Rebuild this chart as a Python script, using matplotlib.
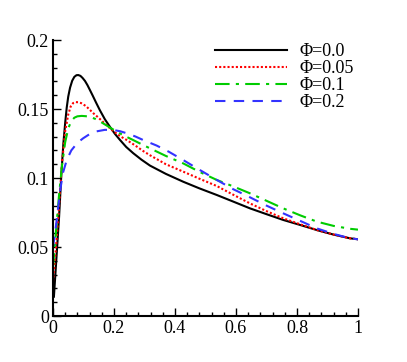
import numpy as np
import matplotlib.pyplot as plt
from matplotlib.ticker import MultipleLocator, FormatStrFormatter

plt.rcParams['font.family'] = ['Liberation Serif', 'DejaVu Serif']

# curves
x_phi00 = [0.003, 0.011, 0.02, 0.027, 0.034, 0.04, 0.045, 0.05, 0.056, 0.063,
           0.07, 0.077, 0.083, 0.09, 0.097, 0.105, 0.113, 0.121, 0.13, 0.142,
           0.154, 0.17, 0.187, 0.203, 0.22, 0.24, 0.263, 0.29, 0.318, 0.37,
           0.427, 0.48, 0.537, 0.59, 0.646, 0.70, 0.755, 0.81, 0.865, 0.92,
           0.974, 1.0]
y_phi00 = [0.014, 0.041, 0.072, 0.101, 0.125, 0.14, 0.151, 0.159, 0.1655, 0.1705,
           0.1733, 0.1745, 0.1746, 0.174, 0.1725, 0.1703, 0.1673, 0.1638, 0.1598, 0.1543,
           0.149, 0.1426, 0.137, 0.132, 0.1275, 0.1225, 0.118, 0.1133, 0.109, 0.103,
           0.0973, 0.0925, 0.0877, 0.083, 0.078, 0.0738, 0.0696, 0.066, 0.0623, 0.059,
           0.0563, 0.0556]

x_phi005 = [0.0, 0.01, 0.02, 0.03, 0.04, 0.05, 0.058, 0.066, 0.075, 0.083,
            0.092, 0.1, 0.11, 0.12, 0.132, 0.146, 0.16, 0.173, 0.187, 0.2,
            0.215, 0.228, 0.242, 0.27, 0.296, 0.318, 0.37, 0.427, 0.48, 0.537,
            0.59, 0.646, 0.70, 0.755, 0.81, 0.865, 0.92, 0.974, 1.0]
y_phi005 = [0.025, 0.05, 0.08, 0.112, 0.134, 0.146, 0.1518, 0.1543, 0.155, 0.1549,
            0.1543, 0.1533, 0.1517, 0.1496, 0.147, 0.1443, 0.1415, 0.1388, 0.136, 0.1336,
            0.1312, 0.1293, 0.1275, 0.1235, 0.1195, 0.1165, 0.11, 0.1046, 0.0995, 0.0942,
            0.088, 0.0816, 0.076, 0.0708, 0.0665, 0.0623, 0.059, 0.0563, 0.0556]

x_phi01 = [0.0, 0.01, 0.02, 0.03, 0.04, 0.05, 0.06, 0.07, 0.08, 0.094,
           0.107, 0.12, 0.137, 0.154, 0.18, 0.209, 0.235, 0.263, 0.29, 0.318,
           0.37, 0.427, 0.48, 0.537, 0.59, 0.646, 0.70, 0.755, 0.81, 0.865,
           0.92, 0.974, 1.0]
y_phi01 = [0.035, 0.062, 0.088, 0.11, 0.126, 0.136, 0.1412, 0.1437, 0.1447, 0.145,
           0.1448, 0.1443, 0.143, 0.141, 0.1375, 0.1336, 0.1305, 0.1275, 0.1245, 0.1215,
           0.116, 0.1106, 0.1045, 0.0986, 0.094, 0.0889, 0.0835, 0.078, 0.073, 0.0684,
           0.0653, 0.0632, 0.0626]

x_phi02 = [0.0, 0.008, 0.016, 0.025, 0.033, 0.045, 0.06, 0.08, 0.099, 0.12,
           0.143, 0.17, 0.198, 0.22, 0.242, 0.27, 0.296, 0.34, 0.38, 0.427,
           0.48, 0.537, 0.59, 0.646, 0.70, 0.755, 0.81, 0.865, 0.92, 0.974,
           1.0]
y_phi02 = [0.05, 0.062, 0.077, 0.093, 0.104, 0.113, 0.12, 0.1255, 0.1288, 0.1318,
           0.1338, 0.1349, 0.1348, 0.1339, 0.1324, 0.1301, 0.1275, 0.1235, 0.119, 0.113,
           0.106, 0.0986, 0.092, 0.086, 0.080, 0.0744, 0.069, 0.0635, 0.0595, 0.0563,
           0.0556]

fig = plt.figure(figsize=(4.07, 3.62), dpi=100)
ax = fig.add_axes([0.1302, 0.127, 0.7494, 0.7625])

ax.plot(x_phi00, y_phi00, color='black', lw=1.5, ls='-', label='Φ=0.0')
ax.plot(x_phi005, y_phi005, color='#ff0000', lw=1.5, ls=(0, (1, 1)), label='Φ=0.05')
ax.plot(x_phi01, y_phi01, color='#00cc00', lw=1.5, ls=(0, (7, 3, 1.5, 3)), label='Φ=0.1')
ax.plot(x_phi02, y_phi02, color='#3333ff', lw=1.5, ls=(0, (5, 4)), label='Φ=0.2')

ax.set_xlim(0, 1)
ax.set_ylim(0, 0.2)
ax.xaxis.set_major_locator(MultipleLocator(0.2))
ax.xaxis.set_minor_locator(MultipleLocator(0.04))
ax.yaxis.set_major_locator(MultipleLocator(0.05))
ax.yaxis.set_minor_locator(MultipleLocator(0.01))
ax.xaxis.set_major_formatter(FormatStrFormatter('%g'))
ax.yaxis.set_major_formatter(FormatStrFormatter('%g'))

for s in ['top', 'right']:
    ax.spines[s].set_visible(False)
for s in ['left', 'bottom']:
    ax.spines[s].set_linewidth(1.5)
ax.tick_params(which='both', direction='in', labelsize=13, width=1.0)
ax.tick_params(which='major', length=6, pad=3)
ax.tick_params(which='minor', length=3)

ax.legend(loc='upper left', bbox_to_anchor=(0.507, 1.015), frameon=False,
          fontsize=13, handlelength=4.0, labelspacing=0.0, handletextpad=0.7,
          borderaxespad=0.0)

fig.savefig('out.png', dpi=100)
